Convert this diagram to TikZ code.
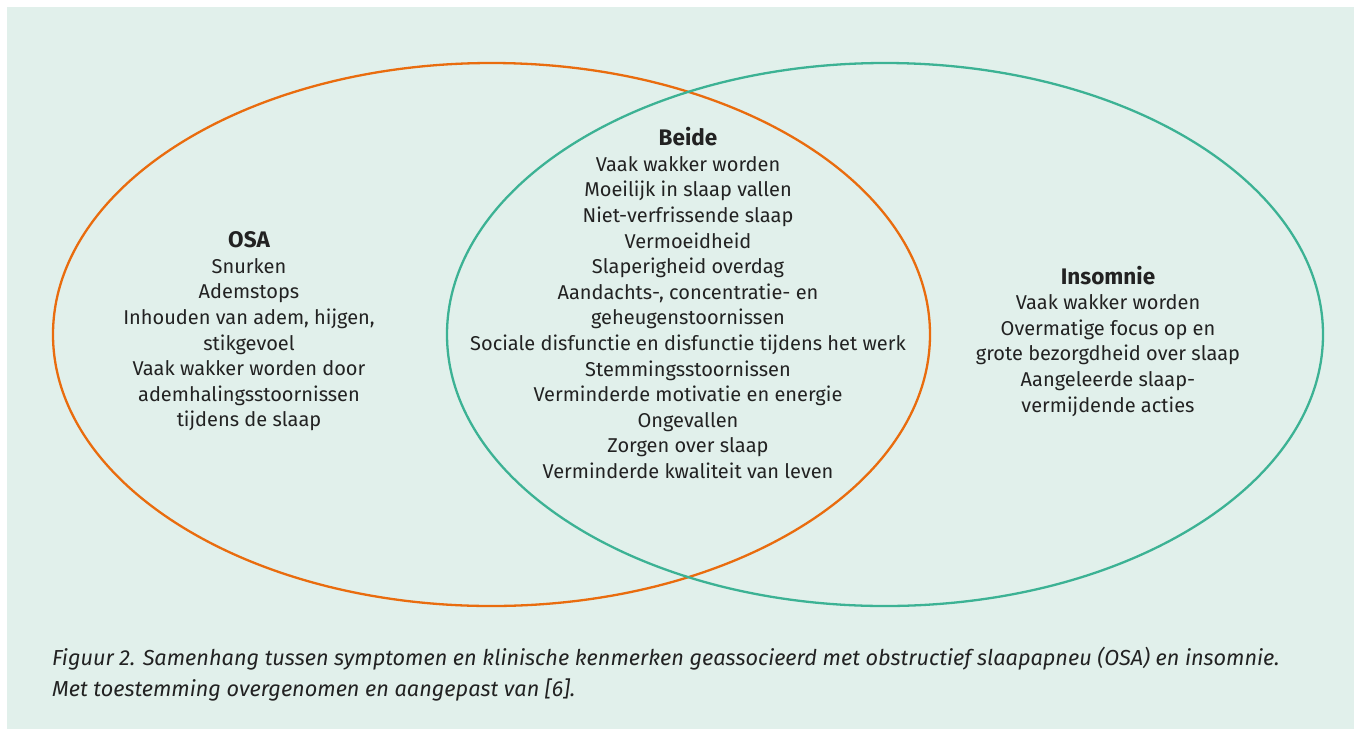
\documentclass[tikz,border=0pt]{standalone}
\usepackage{fontspec}
\setmainfont{Fira Sans}
\definecolor{bg}{RGB}{225,240,235}
\definecolor{osaorange}{RGB}{233,108,14}
\definecolor{insgreen}{RGB}{60,178,148}
\definecolor{txt}{RGB}{34,34,34}
\newcommand{\hd}[1]{{\fontsize{22.5}{25.7}\selectfont\bfseries #1}}
\tikzset{
  ring/.style={line width=2.3pt},
  block/.style={align=center, text=txt, inner sep=0pt, font=\fontsize{20}{25.6}\selectfont},
  caption/.style={align=left, text=txt, inner sep=0pt, anchor=north west, font=\fontsize{21.7}{31}\selectfont\itshape}
}
\begin{document}
\begin{tikzpicture}[x=1pt,y=-1pt]
\useasboundingbox (0,0) rectangle (1354,729);
\fill[bg] (7,7) rectangle (1354,729);
\draw[ring, osaorange] (491.5,334.5) ellipse [x radius=438.5, y radius=271.5];
\draw[ring, insgreen] (885,334.5) ellipse [x radius=438, y radius=271.5];
\node[block] (osa) at (249,331.5) {\hd{OSA}\\Snurken\\Ademstops\\Inhouden van adem, hijgen,\\stikgevoel\\Vaak wakker worden door\\ademhalingsstoornissen\\tijdens de slaap};
\node[block] (beide) at (688,303) {\hd{Beide}\\Vaak wakker worden\\Moeilijk in slaap vallen\\Niet-verfrissende slaap\\Vermoeidheid\\Slaperigheid overdag\\Aandachts-, concentratie- en\\geheugenstoornissen\\Sociale disfunctie en disfunctie tijdens het werk\\Stemmingsstoornissen\\Verminderde motivatie en energie\\Ongevallen\\Zorgen over slaap\\Verminderde kwaliteit van leven};
\node[block] (ins) at (1108,341) {\hd{Insomnie}\\Vaak wakker worden\\Overmatige focus op en\\grote bezorgdheid over slaap\\Aangeleerde slaap-\\vermijdende acties};
\node[caption] (cap) at (52,646.5) {Figuur 2. Samenhang tussen symptomen en klinische kenmerken geassocieerd met obstructief slaapapneu (OSA) en insomnie.\\Met toestemming overgenomen en aangepast van [6].};
\end{tikzpicture}
\end{document}
